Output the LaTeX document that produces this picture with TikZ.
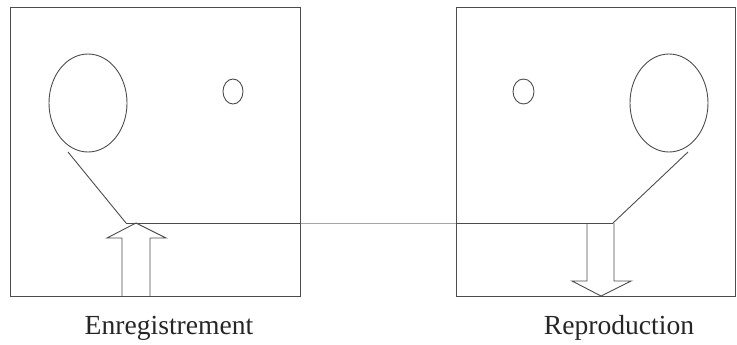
\documentclass[tikz,border=0pt]{standalone}
\usepackage{fontspec}
\setmainfont{Liberation Serif}
\begin{document}
\begin{tikzpicture}[x=1pt,y=-1pt,
  ln/.style={draw=black!70,line width=0.9pt},
  faint/.style={draw=black!35,line width=0.6pt},
  boxstyle/.style={ln,rectangle,inner sep=0pt,outer sep=0pt},
  lbl/.style={font=\fontsize{27.6}{30}\selectfont,text=black!85,anchor=base,inner sep=0pt}]
\useasboundingbox (0,0) rectangle (737,345);
% boxes
\node[boxstyle,minimum width=290.5pt,minimum height=289pt,anchor=north west] (boxL) at (10,7) {};
\node[boxstyle,minimum width=279pt,minimum height=289pt,anchor=north west] (boxR) at (456,7) {};
% ellipses
\draw[ln] (88,103) ellipse [x radius=39,y radius=49];
\draw[ln] (233,91.5) ellipse [x radius=10,y radius=12.5];
\draw[ln] (669,103) ellipse [x radius=39,y radius=49];
\draw[ln] (523.5,91.5) ellipse [x radius=10.5,y radius=12.5];
\coordinate (eL) at (68,152);
\coordinate (jL) at (126,223);
\coordinate (eR) at (688,152);
\coordinate (jR) at (613,223);
\coordinate (mL) at (300.5,223);
\coordinate (mR) at (456,223);
% pointer lines
\draw[ln] (eL) -- (jL);
\draw[ln] (eR) -- (jR);
% horizontal track
\draw[ln] (jL) -- (mL);
\draw[faint] (mL) -- (mR);
\draw[ln] (mR) -- (jR);
% up arrow (recording)
\draw[ln,line join=miter] (122,296) -- (122,238) -- (107,238) -- (136,223) -- (166,238) -- (150,238) -- (150,296);
% down arrow (playback)
\draw[ln,line join=miter] (587,223) -- (587,281) -- (572,281) -- (601,296) -- (631,281) -- (614,281) -- (614,223);
% labels
\node[lbl] (tL) at (169,334) {Enregistrement};
\node[lbl] (tR) at (619,334) {Reproduction};
\end{tikzpicture}
\end{document}
